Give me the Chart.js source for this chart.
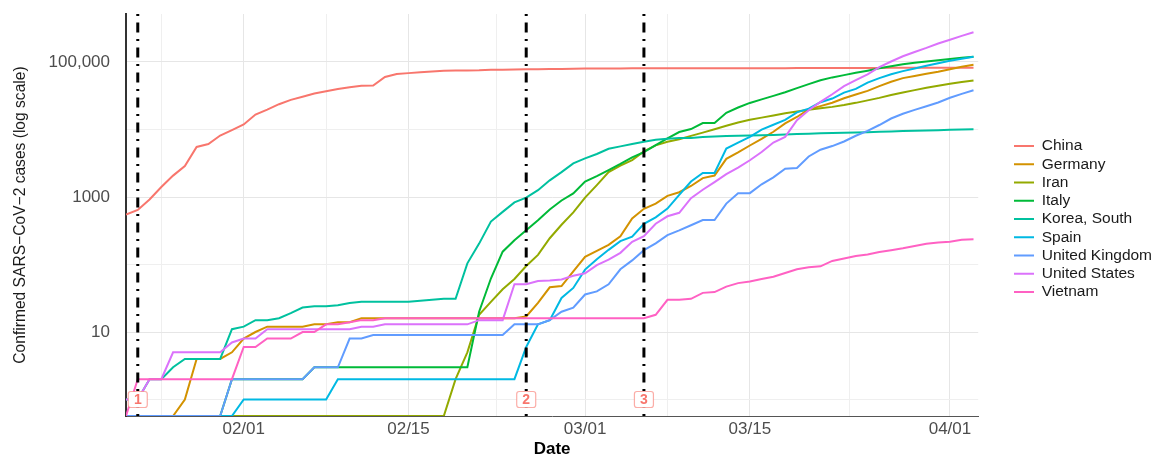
<!DOCTYPE html>
<html>
<head>
<meta charset="utf-8">
<script src="https://cdn.jsdelivr.net/npm/chart.js@4/dist/chart.umd.min.js"></script>
<style>
  html, body { margin: 0; padding: 0; background: #ffffff; }
  #wrap { width: 1164px; height: 455px; }
</style>
</head>
<body>
<div id="wrap"><canvas id="c" width="1164" height="455"></canvas></div>
<script>
// ---------- categories ----------
const dates = [
  '01/22','01/23','01/24','01/25','01/26','01/27','01/28','01/29','01/30','01/31',
  '02/01','02/02','02/03','02/04','02/05','02/06','02/07','02/08','02/09','02/10',
  '02/11','02/12','02/13','02/14','02/15','02/16','02/17','02/18','02/19','02/20',
  '02/21','02/22','02/23','02/24','02/25','02/26','02/27','02/28','02/29',
  '03/01','03/02','03/03','03/04','03/05','03/06','03/07','03/08','03/09','03/10',
  '03/11','03/12','03/13','03/14','03/15','03/16','03/17','03/18','03/19','03/20',
  '03/21','03/22','03/23','03/24','03/25','03/26','03/27','03/28','03/29','03/30','03/31',
  '04/01','04/02','04/03'
];
const countries = ['China','Germany','Iran','Italy','Korea, South','Spain','United Kingdom','United States','Vietnam'];
const countryColors = ['#F8766D','#D39200','#93AA00','#00BA38','#00C19F','#00B9E3','#619CFF','#DB72FB','#FF61C3'];

// ---------- series values (confirmed cases, one per date) ----------
const china = [548,643,920,1406,2075,2877,5509,6087,8141,9802,
  11891,16630,19716,23707,27440,30587,34110,36814,39829,42354,
  44386,44759,59895,66358,68413,70513,72434,74211,74619,75077,
  75550,77001,77022,77241,77754,78166,78600,78928,79356,79932,
  80136,80261,80386,80537,80690,80770,80823,80860,80887,80921,
  80932,80945,80977,81003,81033,81058,81102,81156,81250,81305,
  81435,81498,81591,81661,81782,81897,81999,82122,82198,82279,
  82361,82432,82511];
const germany = [0,0,0,0,0,1,4,4,4,5,
  8,10,12,12,12,12,13,13,14,14,
  16,16,16,16,16,16,16,16,16,16,
  16,16,16,16,17,27,46,48,79,130,
  159,196,262,482,670,799,1040,1176,1457,1908,
  2078,3675,4585,5795,7272,9257,12327,15320,19848,22213,
  24873,29056,32986,37323,43938,50871,57695,62095,66885,71808,
  77872,84794,91159];
const iran = [0,0,0,0,0,0,0,0,0,0,
  0,0,0,0,0,0,0,0,0,0,
  0,0,0,0,0,0,0,0,2,5,
  18,28,43,61,95,139,245,388,593,978,
  1501,2336,2922,3513,4747,5823,6566,7161,8042,9000,
  10075,11364,12729,13938,14991,16169,17361,18407,19644,20610,
  21638,23049,24811,27017,29406,32332,35408,38309,41495,44605,
  47593,50468,53183];
const italy = [0,0,0,0,0,0,0,0,0,2,
  2,2,2,2,2,2,3,3,3,3,
  3,3,3,3,3,3,3,3,3,3,
  20,62,155,229,322,453,655,888,1128,1694,
  2036,2502,3089,3858,4636,5883,7375,9172,10149,12462,
  12462,17660,21157,24747,27980,31506,35713,41035,47021,53578,
  59138,63927,69176,74386,80589,86498,92472,97689,101739,105792,
  110574,115242,119827];
const korea = [1,1,2,2,3,4,4,4,4,11,
  12,15,15,16,19,23,24,24,25,27,
  28,28,28,28,28,29,30,31,31,104,
  204,433,602,833,977,1261,1766,2337,3150,3736,
  4335,5186,5621,6088,6593,7041,7314,7478,7513,7755,
  7869,7979,8086,8162,8236,8320,8413,8565,8652,8799,
  8897,8961,9037,9137,9241,9332,9478,9583,9661,9786,
  9887,9976,10062];
const spain = [0,0,0,0,0,0,0,0,0,0,
  1,1,1,1,1,1,1,1,2,2,
  2,2,2,2,2,2,2,2,2,2,
  2,2,2,2,6,13,15,32,45,84,
  120,165,222,259,400,500,673,1073,1695,2277,
  2277,5232,6391,7798,9942,11748,13910,17963,20410,25374,
  28768,35136,39885,49515,57786,65719,73235,80110,87956,95923,
  104118,112065,119199];
const uk = [0,0,0,0,0,0,0,0,0,2,
  2,2,2,2,2,2,3,3,3,8,
  8,9,9,9,9,9,9,9,9,9,
  9,9,9,13,13,13,15,20,23,36,
  40,51,85,115,163,206,273,321,382,456,
  456,798,1140,1140,1543,1950,2626,2689,3983,5018,
  5683,6650,8077,9529,11658,14543,17089,19522,22141,25150,
  29474,33718,38168];
const us = [1,1,2,2,5,5,5,5,5,7,
  8,8,11,11,11,11,11,11,11,11,
  12,12,13,13,13,13,13,13,13,13,
  15,15,15,51,51,57,58,60,68,74,
  98,118,149,217,262,402,518,583,959,1281,
  1663,2179,2727,3499,4632,6421,7783,13747,19273,25600,
  33276,43847,53740,65778,83836,101657,121478,140886,161807,188172,
  213242,243622,275367];
const vietnam = [0,2,2,2,2,2,2,2,2,2,
  6,6,8,8,8,10,10,13,13,14,
  15,15,16,16,16,16,16,16,16,16,
  16,16,16,16,16,16,16,16,16,16,
  16,16,16,16,16,18,30,30,31,38,
  39,47,53,56,61,66,75,85,91,94,
  113,123,134,141,153,163,174,188,203,212,
  218,233,237];
const seriesValues = [china, germany, iran, italy, korea, spain, uk, us, vietnam];

// ---------- ticks and annotations ----------
const xMajorTicks = ['02/01','02/15','03/01','03/15','04/01'];
const yMajorTicks = [10, 1000, 100000];
const yTickLabels = ['10','1000','100,000'];
const yMinorTicks = [1, 100, 10000];
const eventDates = ['01/23','02/25','03/06'];
const eventTags = ['1','2','3'];
const eventTagLevel = 1;

// ---------- chart ----------
const Y_MIN = 0.57, Y_MAX = 514000;
const FONT = '"Liberation Sans", Helvetica, Arial, sans-serif';

const dayOf = d => dates.indexOf(d);
const majorDays = xMajorTicks.map(dayOf);
const minorDays = [];
minorDays.push(majorDays[0] - (majorDays[1] - majorDays[0]) / 2);
for (let i = 0; i < majorDays.length - 1; i++) minorDays.push((majorDays[i] + majorDays[i + 1]) / 2);
const xLabelMap = new Map(majorDays.map((d, i) => [d, xMajorTicks[i]]));
const yLabelMap = new Map(yMajorTicks.map((v, i) => [v, yTickLabels[i]]));

// zero counts sit on the floor of the log axis (as -Inf does in the original)
const datasets = countries.map((name, k) => ({
  label: name,
  data: seriesValues[k].map((v, i) => ({ x: i, y: v > 0 ? v : Y_MIN })),
  borderColor: countryColors[k],
  backgroundColor: countryColors[k],
  borderWidth: 2,
  pointRadius: 0,
  tension: 0,
  fill: false,
  order: countries.length - k
}));
eventDates.forEach((d) => {
  datasets.push({
    label: '_event',
    data: [{ x: dayOf(d), y: Y_MAX }, { x: dayOf(d), y: Y_MIN }],
    borderColor: '#000000',
    borderWidth: 3,
    borderDash: [2, 6.5, 10, 6.5],
    borderCapStyle: 'butt',
    pointRadius: 0,
    fill: false,
    order: -1
  });
});

const eventTagPlugin = {
  id: 'eventTags',
  afterDatasetsDraw(chart) {
    const ctx = chart.ctx;
    const xs = chart.scales.x, ys = chart.scales.y;
    ctx.save();
    eventDates.forEach((d, i) => {
      const cx = xs.getPixelForValue(dayOf(d));
      const cy = ys.getPixelForValue(eventTagLevel);
      const w = 19, h = 16, r = 2.5;
      ctx.beginPath();
      ctx.roundRect(cx - w / 2, cy - h / 2, w, h, r);
      ctx.fillStyle = '#ffffff';
      ctx.fill();
      ctx.lineWidth = 1.2;
      ctx.strokeStyle = 'rgba(248,118,109,0.6)';
      ctx.stroke();
      ctx.fillStyle = '#F8766D';
      ctx.font = 'bold 14px ' + FONT;
      ctx.textAlign = 'center';
      ctx.textBaseline = 'middle';
      ctx.fillText(eventTags[i], cx, cy + 0.5);
    });
    ctx.restore();
  }
};

const legendPlacePlugin = {
  id: 'legendPlace',
  afterLayout(chart) {
    const lg = chart.legend;
    if (!lg || !lg.columnSizes) return;
    const pad = lg.options.labels.padding;
    const dx = 1014 - pad - lg.left;
    lg.left += dx; lg.right += dx;
    const colH = lg.columnSizes[0].height;
    const curY = (lg.top + pad + lg.bottom - colH) / 2;
    const dy = 146 - 7.75 - curY;
    lg.top += dy; lg.bottom += dy;
  }
};

new Chart(document.getElementById('c'), {
  type: 'line',
  data: { datasets },
  plugins: [eventTagPlugin, legendPlacePlugin],
  options: {
    responsive: false,
    animation: false,
    events: [],
    layout: { padding: { top: 14, right: 35, bottom: 0, left: 0 } },
    plugins: {
      tooltip: { enabled: false },
      legend: {
        position: 'right',
        align: 'center',
        labels: {
          usePointStyle: true,
          pointStyle: 'line',
          pointStyleWidth: 20,
          padding: 2.75,
          color: '#1a1a1a',
          font: { family: FONT, size: 15.5 },
          filter: (item) => item.datasetIndex < countries.length,
          sort: (a, b) => a.datasetIndex - b.datasetIndex
        }
      }
    },
    scales: {
      x: {
        type: 'linear',
        min: 0,
        max: 72.4,
        afterBuildTicks(scale) {
          const t = majorDays.map(v => ({ value: v, major: true }))
            .concat(minorDays.filter(v => v >= 0).map(v => ({ value: v, major: false })));
          t.sort((a, b) => a.value - b.value);
          scale.ticks = t;
        },
        afterFit(scale) { scale.height = 39; scale.paddingLeft = 0; scale.paddingRight = 0; },
        ticks: {
          autoSkip: false,
          maxRotation: 0,
          padding: 3,
          color: '#4D4D4D',
          font: { family: FONT, size: 17 },
          callback: (v) => xLabelMap.has(v) ? xLabelMap.get(v) : ''
        },
        grid: {
          drawTicks: false,
          color: (c) => (c.tick && c.tick.major) ? '#E6E6E6' : '#EFEFEF',
          lineWidth: 1
        },
        border: { display: true, color: '#555555', width: 1 },
        title: {
          display: true,
          text: 'Date',
          color: '#000000',
          font: { family: FONT, size: 17, weight: 'bold', lineHeight: 1 },
          padding: { top: 0, bottom: -3 }
        }
      },
      y: {
        type: 'logarithmic',
        min: Y_MIN,
        max: Y_MAX,
        afterBuildTicks(scale) {
          const t = yMajorTicks.map(v => ({ value: v, major: true }))
            .concat(yMinorTicks.map(v => ({ value: v, major: false })));
          t.sort((a, b) => a.value - b.value);
          scale.ticks = t;
        },
        afterFit(scale) { scale.width = 126; scale.paddingTop = 0; scale.paddingBottom = 0; },
        ticks: {
          autoSkip: false,
          padding: 16,
          color: '#4D4D4D',
          font: { family: FONT, size: 17 },
          callback: (v) => yLabelMap.has(v) ? yLabelMap.get(v) : ''
        },
        grid: {
          drawTicks: false,
          color: (c) => (c.tick && c.tick.major) ? '#E6E6E6' : '#EFEFEF',
          lineWidth: 1
        },
        border: { display: true, color: '#333333', width: 2 },
        title: {
          display: true,
          text: 'Confirmed SARS\u2212CoV\u22122 cases (log scale)',
          color: '#1a1a1a',
          font: { family: FONT, size: 15.6 },
          padding: { top: 11.5, bottom: 0 }
        }
      }
    }
  }
});
</script>
</body>
</html>
